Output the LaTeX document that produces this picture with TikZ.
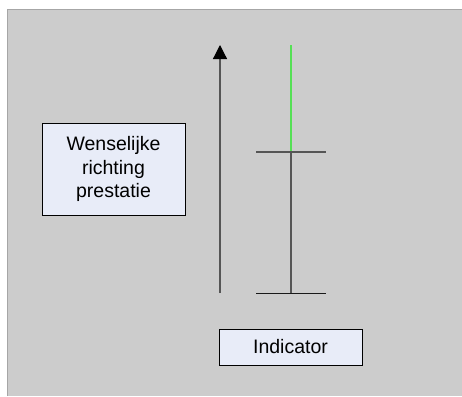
\documentclass[tikz,border=0pt]{standalone}
\usepackage{fontspec}
\setmainfont{Liberation Sans}
\usetikzlibrary{arrows.meta}
\definecolor{panelgray}{HTML}{CCCCCC}
\definecolor{paneledge}{HTML}{A6A6A6}
\definecolor{boxfill}{HTML}{E8ECF8}
\definecolor{barline}{HTML}{555555}
\definecolor{goodline}{HTML}{55E055}
\tikzset{
  labelbox/.style={draw=black, line width=1pt, fill=boxfill, inner sep=0pt,
    align=center, font=\fontsize{19.5}{23.5}\selectfont},
  bar/.style={draw=barline, line width=1.2pt},
}
\begin{document}
\begin{tikzpicture}[x=1pt, y=-1pt]
  \useasboundingbox (0,0) rectangle (462,396);
  % grey panel, open to the right and bottom
  \fill[white] (0,0) rectangle (462,396);
  \fill[panelgray] (7,10) rectangle (462,396);
  \draw[paneledge, line width=1pt] (7,396) -- (7,10) -- (462,10);
  % labels
  \node[labelbox, minimum width=143pt, minimum height=92pt] (dir) at (113.5,169)
    {Wenselijke\\richting\\prestatie};
  \node[labelbox, minimum width=143pt, minimum height=36pt] (ind) at (290.5,347)
    {Indicator};
  % direction arrow
  \coordinate (abot) at (220,293);
  \coordinate (atop) at (220,45);
  \draw[bar, -{Triangle[width=14pt, length=14pt, color=black]}] (abot) -- (atop);
  % indicator bar
  \coordinate (top) at (291,45);
  \coordinate (mid) at (291,152);
  \coordinate (bot) at (291,293);
  \coordinate (midl) at (256,152);
  \coordinate (midr) at (326,152);
  \coordinate (botl) at (256,293);
  \coordinate (botr) at (326,293);
  \draw[goodline, line width=1.5pt] (mid) -- (top);
  \draw[bar] (bot) -- (mid);
  \draw[bar] (midl) -- (midr);
  \draw[draw=black!90, line width=1pt] (botl) -- (botr);
\end{tikzpicture}
\end{document}
